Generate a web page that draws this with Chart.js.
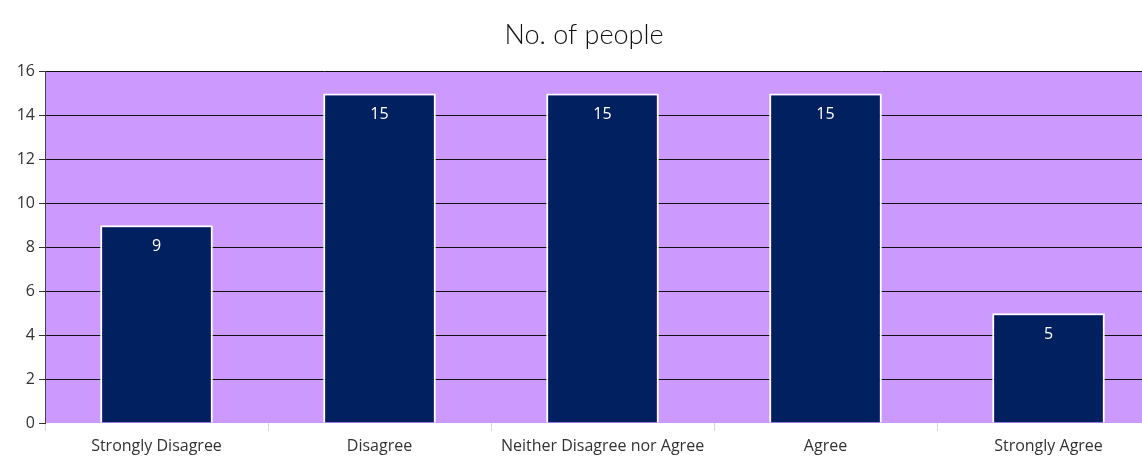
<!DOCTYPE html>
<html>
<head>
<meta charset="utf-8">
<script src="https://cdn.jsdelivr.net/npm/chart.js@4"></script>
<style>
  html, body { margin: 0; padding: 0; background: #fff; overflow: hidden; }
  /* plot runs past the right edge of the picture, so the canvas is wider than the window */
  #wrap { width: 1160px; height: 459px; }
</style>
</head>
<body>
<div id="wrap"><canvas id="c"></canvas></div>
<script>
'use strict';

const categories = ['Strongly Disagree', 'Disagree', 'Neither Disagree nor Agree', 'Agree', 'Strongly Agree'];
const people = [9, 15, 15, 15, 5];
const yTicks = [0, 2, 4, 6, 8, 10, 12, 14, 16];

// purple plot background
const plotBg = {
    id: 'plotBg',
    beforeDraw(chart) {
        const a = chart.chartArea, ctx = chart.ctx;
        ctx.save();
        ctx.fillStyle = '#CC99FF';
        ctx.fillRect(a.left, a.top, a.right - a.left, a.bottom - a.top);
        ctx.restore();
    }
};

// value labels inside the top of each bar
const barLabels = {
    id: 'barLabels',
    afterDatasetsDraw(chart) {
        const ctx = chart.ctx;
        ctx.save();
        ctx.fillStyle = '#ffffff';
        ctx.font = '16px "Open Sans", sans-serif';
        ctx.textAlign = 'center';
        ctx.textBaseline = 'middle';
        chart.getDatasetMeta(0).data.forEach((bar, i) => {
            ctx.fillText(String(people[i]), bar.x, bar.y + 21);
        });
        ctx.restore();
    }
};

new Chart(document.getElementById('c').getContext('2d'), {
    type: 'bar',
    data: {
        labels: categories,
        datasets: [{
            data: people,
            backgroundColor: '#002060',
            borderColor: '#ffffff',
            borderWidth: 2,
            categoryPercentage: 1,
            barPercentage: 0.505
        }]
    },
    options: {
        animation: false,
        responsive: true,
        maintainAspectRatio: false,
        layout: { padding: { left: 8, right: 0, top: 0, bottom: 0 } },
        plugins: {
            legend: { display: false },
            tooltip: { enabled: false },
            title: {
                display: true,
                text: 'No. of people',
                color: '#111',
                font: { family: 'Lato, sans-serif', size: 27, weight: 300 },
                padding: { top: 19, bottom: 20 }
            }
        },
        scales: {
            x: {
                offset: true,
                grid: { display: true, offset: true, drawOnChartArea: false,
                        tickColor: '#d9d9d9', tickLength: 8 },
                border: { display: false },
                ticks: { color: '#333', font: { family: '"Open Sans", sans-serif', size: 16 },
                         maxRotation: 0, padding: 6 },
                afterFit(s) { s.height = 36; }
            },
            y: {
                min: 0, max: 16,
                afterBuildTicks(s) { s.ticks = yTicks.map(v => ({ value: v })); },
                grid: {
                    color: ctx => ctx.tick && ctx.tick.value === 0 ? 'rgba(0,0,0,0)' : '#111',
                    lineWidth: 1,
                    tickColor: '#333',
                    tickLength: 6
                },
                border: { display: true, color: '#444', width: 1 },
                ticks: { color: '#333', font: { family: '"Open Sans", sans-serif', size: 16 }, padding: 4 },
                afterFit(s) { s.width = 37; }
            }
        }
    },
    plugins: [plotBg, barLabels]
});
</script>
</body>
</html>
